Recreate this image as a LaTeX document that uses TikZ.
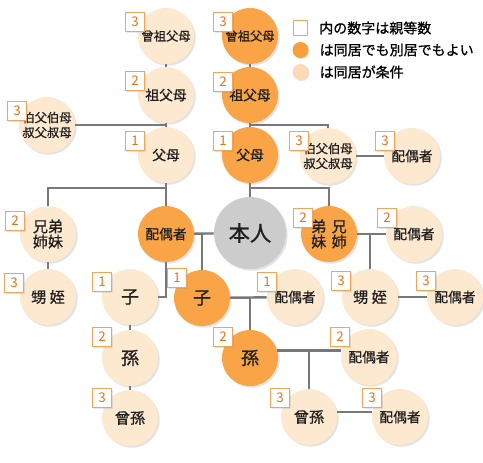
\documentclass[tikz,border=0pt]{standalone}
\usepackage{fontspec}
\usepackage{xcolor}
\usepackage{tikz}
\usetikzlibrary{arrows.meta,positioning,calc,backgrounds,shadows}
\newfontfamily\jpfont{Noto Sans CJK JP}[RawFeature={embolden=0.9}]
\newfontfamily\numfont{Noto Sans CJK JP}
\definecolor{peach}{HTML}{FDE8D0}
\definecolor{kinorange}{HTML}{F8A447}
\definecolor{selfgray}{HTML}{CCCCCC}
\definecolor{linkgray}{HTML}{787878}
\definecolor{boxline}{HTML}{F0A65A}
\definecolor{numorange}{HTML}{E8731A}

\begin{document}
\begin{tikzpicture}[
  x=0.75pt,
  y=-0.75pt,
  person/.style={
    circle,
    minimum size=42pt,
    inner sep=0pt,
    align=center,
    text=black!88,
    drop shadow={shadow xshift=1.3pt, shadow yshift=-1.3pt, opacity=0.22}
  },
  far/.style={person, fill=peach},
  close/.style={person, fill=kinorange},
  self/.style={person, fill=selfgray, minimum size=54pt,
    font=\jpfont\fontsize{16}{18}\selectfont},
  txtS/.style={font=\jpfont\fontsize{9.2}{11.2}\selectfont},
  txtM/.style={font=\jpfont\fontsize{10.3}{12}\selectfont},
  txtL/.style={font=\jpfont\fontsize{11.3}{11.4}\selectfont},
  txtX/.style={font=\jpfont\fontsize{13.5}{15}\selectfont},
  numbox/.style={
    draw=boxline, fill=white, line width=0.8pt,
    minimum size=14.2pt, inner sep=0pt,
    text=numorange, font=\numfont\fontsize{10}{10}\selectfont,
    drop shadow={shadow xshift=0.8pt, shadow yshift=-0.8pt, opacity=0.18}
  },
  link/.style={draw=linkgray, line width=1.8pt},
  legtext/.style={font=\jpfont\fontsize{10.5}{12}\selectfont, inner sep=0pt, anchor=west}
]
  \useasboundingbox (0,0) rectangle (483,462);

  \node[self] (honnin) at (250,233) {本人};

  \foreach \nm/\x/\y/\st/\sz/\num/\dx/\dy/\txt in {
    hisoL/166/36/far/txtS/3/-31/-14/{曾祖父母},
    sofuL/166/95/far/txtM/2/-31/-14/{祖父母},
    fuboL/166/155/far/txtM/1/-31/-14/{父母},
    ojiL/47/125/far/txtS/3/-30/-14/{伯父伯母\\叔父叔母},
    hisoR/250/36/close/txtS/3/-27/-14/{曾祖父母},
    sofuR/250/95/close/txtM/2/-27/-13/{祖父母},
    fuboR/250/155/close/txtM/1/-27/-14/{父母},
    ojiR/328/156/far/txtS/3/-29/-15/{伯父伯母\\叔父叔母},
    haiOji/412/156/far/txtM/3/-27/-15/{配偶者},
    kyoL/48/234/far/txtL/2/-33/-13/{兄弟\\姉妹},
    oiL/48/297/far/txtL/3/-34/-14/{甥 姪},
    haiO/166/234/close/txtM/0/0/0/{配偶者},
    kyoR/329/234/close/txtL/2/-26/-16/{弟\hspace{4pt}兄\\妹\hspace{4pt}姉},
    haiKyo/414/234/far/txtM/2/-27/-16/{配偶者},
    koL/130/297/far/txtX/1/-28/-15/{子},
    koO/202/298/close/txtX/1/-25/-20/{子},
    haiKo/295/297/far/txtM/1/-28/-15/{配偶者},
    oiR/370/297/far/txtL/3/-29/-16/{甥 姪},
    haiOi/455/297/far/txtM/3/-29/-16/{配偶者},
    magoL/130/358/far/txtX/2/-28/-21/{孫},
    magoO/250/358/close/txtX/2/-27/-21/{孫},
    haiMago/369/357/far/txtM/2/-29/-20/{配偶者},
    himagoL/130/418/far/txtL/3/-28/-20/{曾孫},
    himagoR/309/417/far/txtL/3/-29/-19/{曾孫},
    haiHimago/400/417/far/txtM/3/-28/-19/{配偶者}} {
    \node[\st, \sz] (\nm) at (\x,\y) {\txt};
    \ifnum\num>0
      \node[numbox] (\nm-num) at ($(\nm)+(\dx,\dy)$) {\num};
    \fi
  }

  \begin{pgfonlayer}{background}
    \draw[link] (hisoL) -- (fuboL);
    \draw[link] (fuboL) -- (haiO);
    \draw[link] (hisoR) -- (honnin);
    \draw[link] (ojiL.east) -- (ojiL.east -| sofuL.south);
    \draw[link] (ojiR.north) |- ($(sofuR.south)!.5!(fuboR.north)$);
    \draw[link] (ojiR) -- (haiOji);
    \draw[link] (kyoL.north) |- ($(fuboL.south)+(0,5)$);
    \draw[link] (kyoR.north) |- ($(fuboR.south)+(0,5)$);
    \draw[link] (kyoL) -- (oiL);
    \draw[link] (haiO) -- (honnin);
    \draw[link] (koO.north) |- (haiO.east);
    \draw[link] (haiO.south) |- (koL.east);
    \draw[link] (koL) -- (himagoL);
    \draw[link] (koO) -- (haiKo);
    \draw[link] (magoO.north) |- (koO.east);
    \draw[link] (magoO.15) -- (magoO.15 -| haiMago.west);
    \draw[link] (himagoR.north) |- (magoO.15);
    \draw[link] (himagoR.10) -- (himagoR.10 -| haiHimago.west);
    \draw[link] (kyoR) -- (haiKyo);
    \draw[link] (oiR.north) |- (kyoR.east);
    \draw[link] (oiR) -- (haiOi);
  \end{pgfonlayer}

  \node[draw=boxline, fill=white, line width=0.8pt, minimum size=11pt, inner sep=0pt] (legnum) at (300.5,28) {};
  \node[legtext, right=8pt of legnum] (legnumtxt) {内の数字は親等数};
  \node[circle, fill=kinorange!85!orange, minimum size=12pt, inner sep=0pt,
    drop shadow={shadow xshift=0.8pt, shadow yshift=-0.8pt, opacity=0.22}] (legnear) at (300.5,50) {};
  \node[legtext, right=8pt of legnear] (legneartxt) {は同居でも別居でもよい};
  \node[circle, fill=peach!80!kinorange, minimum size=12pt, inner sep=0pt,
    drop shadow={shadow xshift=0.8pt, shadow yshift=-0.8pt, opacity=0.22}] (legfar) at (300.5,72) {};
  \node[legtext, right=8pt of legfar] (legfartxt) {は同居が条件};
\end{tikzpicture}
\end{document}
